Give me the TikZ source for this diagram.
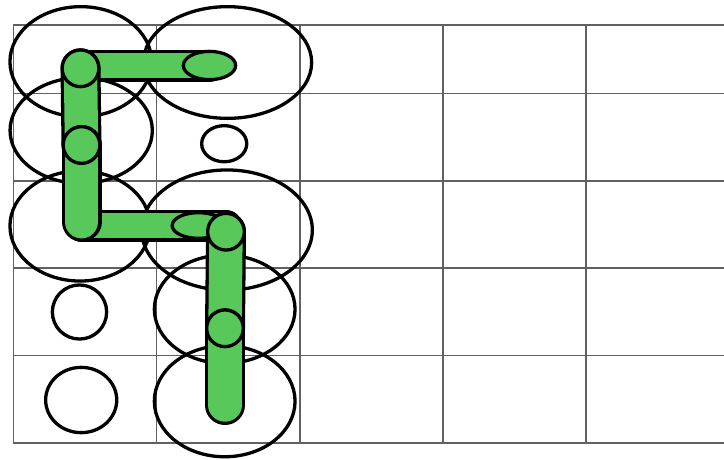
\documentclass[tikz,border=0pt]{standalone}
\usetikzlibrary{shapes.geometric}
\definecolor{gfill}{RGB}{88,200,90}
\pgfdeclarelayer{back}
\pgfdeclarelayer{mid}
\pgfsetlayers{back,mid,main}
\begin{document}
\begin{tikzpicture}[x=1pt,y=-1pt,
  gridline/.style={draw=black!62, line width=1.1pt},
  ring/.style={ellipse, draw=black, line width=3.3pt, inner sep=0pt, outer sep=0pt},
  gnode/.style={ellipse, draw=black, fill=gfill, line width=3.3pt, inner sep=0pt},
  vbar/.style={draw=black, line width=3.3pt, double=gfill, double distance=33.4pt, line cap=round},
  hbar/.style={draw=black, line width=3.3pt, double=gfill, double distance=25.4pt, line cap=round}]
\useasboundingbox (0,0) rectangle (724,459);
\begin{pgfonlayer}{back}
\foreach \x in {13.3,156.7,300,443,586} \draw[gridline] (\x,25) -- (\x,443);
\foreach \y in {25,93.7,181,268,355.7,443} \draw[gridline] (13.3,\y) -- (724,\y);
\node[ring, minimum width=141.7pt, minimum height=110.1pt] (r00) at (80.8,61.7) {};
\node[ring, minimum width=168.3pt, minimum height=111.7pt] (r10) at (227.5,62.5) {};
\node[ring, minimum width=142.3pt, minimum height=105.7pt] (r01) at (81.2,130.5) {};
\node[ring, minimum width=45.1pt, minimum height=36.1pt] (r11) at (224.2,143.7) {};
\node[ring, minimum width=140.1pt, minimum height=110.1pt] (r02) at (80,226) {};
\node[ring, minimum width=170.7pt, minimum height=120.1pt] (r12) at (227,230) {};
\node[ring, minimum width=54.3pt, minimum height=54.1pt] (r03) at (79.5,312) {};
\node[ring, minimum width=140.7pt, minimum height=108.3pt] (r13) at (224.7,309.2) {};
\node[ring, minimum width=71.1pt, minimum height=65.3pt] (r04) at (81.2,400) {};
\node[ring, minimum width=140.7pt, minimum height=111.1pt] (r14) at (224.7,401.2) {};
\end{pgfonlayer}
\node[gnode, minimum width=36.7pt, minimum height=36.7pt] (n1) at (80.5,68.3) {};
\node[gnode, minimum width=52.3pt, minimum height=28.3pt] (n2) at (209.5,65.5) {};
\node[gnode, minimum width=36.7pt, minimum height=36.7pt] (n3) at (81.5,145) {};
\node[gnode, minimum width=52.7pt, minimum height=25.7pt] (n4) at (198.5,225.5) {};
\node[gnode, minimum width=36.7pt, minimum height=36.7pt] (n5) at (226,231.7) {};
\node[gnode, minimum width=36.7pt, minimum height=36.7pt] (n6) at (225,328.3) {};
\coordinate (e02) at (81.5,221.7);
\coordinate (e14) at (225,405);
\begin{pgfonlayer}{mid}
\draw[hbar] (n1.center |- n2.center) -- (n2.center);
\draw[vbar] (n1.center) -- (n3.center);
\draw[hbar] (e02 |- n4.center) -- (n5.center |- n4.center);
\draw[vbar] (n3.center) -- (e02);
\draw[vbar] (n5.center) -- (n6.center);
\draw[vbar] (n6.center) -- (e14);
\end{pgfonlayer}
\end{tikzpicture}
\end{document}
